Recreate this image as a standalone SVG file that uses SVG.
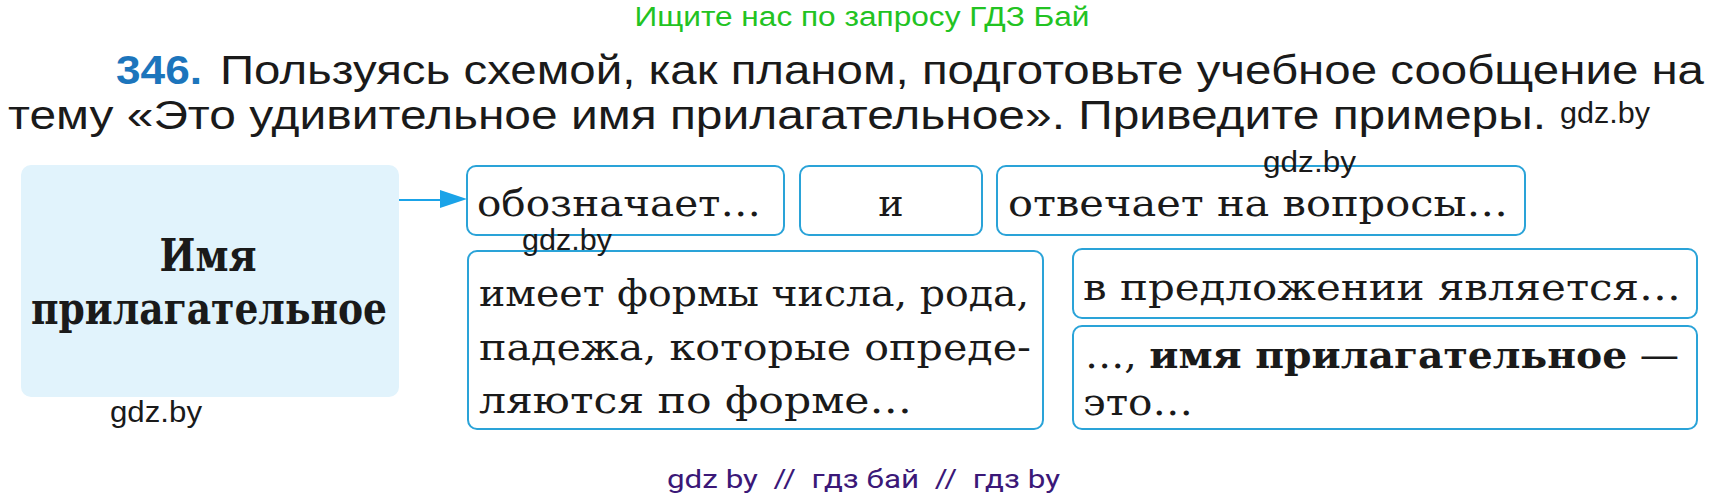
<svg xmlns="http://www.w3.org/2000/svg" width="1730" height="500" viewBox="0 0 1730 500">
<defs>
<style>
.hdr{font-family:"Liberation Sans",Arial,sans-serif;font-size:40px;fill:#1a1a1a}
.wm{font-family:"Liberation Sans",Arial,sans-serif;font-size:30px;fill:#1a1a1a}
.box{fill:#ffffff;stroke:#2aa3d8;stroke-width:2}
.t{font-family:"DejaVu Serif","Liberation Serif",serif;font-size:38px;fill:#1a1a1a}
.main{font-family:"DejaVu Serif","Liberation Serif",serif;font-size:44px;font-weight:bold;fill:#1a1a1a}
</style>
</defs>
<rect width="1730" height="500" fill="#ffffff"/>
<text x="862" y="26" text-anchor="middle" font-family="Liberation Sans,Arial,sans-serif" font-size="27" fill="#22c322" textLength="455" lengthAdjust="spacingAndGlyphs">Ищите нас по запросу ГДЗ Бай</text>
<text x="116" y="84" font-family="Liberation Sans,Arial,sans-serif" font-size="40" font-weight="bold" fill="#1c75bc" textLength="86" lengthAdjust="spacingAndGlyphs">346.</text>
<text class="hdr" x="220" y="84" textLength="1484" lengthAdjust="spacingAndGlyphs">Пользуясь схемой, как планом, подготовьте учебное сообщение на</text>
<text class="hdr" x="8" y="129" textLength="1538" lengthAdjust="spacingAndGlyphs">тему «Это удивительное имя прилагательное». Приведите примеры.</text>
<g id="connectors">
<line x1="399" y1="200" x2="445" y2="200" stroke="#1aa3e8" stroke-width="2"/>
<polygon points="440,190 467,199 440,208" fill="#1aa3e8"/>
</g>
<g id="main">
<rect x="21" y="165" width="378" height="232" rx="10" fill="#e1f3fc"/>
<text class="main" x="208" y="271" text-anchor="middle" textLength="97" lengthAdjust="spacingAndGlyphs">Имя</text>
<text class="main" x="31" y="324" textLength="356" lengthAdjust="spacingAndGlyphs">прилагательное</text>
</g>
<g id="n1">
<rect class="box" x="467" y="166" width="317" height="69" rx="9"/>
<text class="t" x="477" y="216" textLength="284" lengthAdjust="spacingAndGlyphs">обозначает…</text>
</g>
<g id="n2">
<rect class="box" x="800" y="166" width="182" height="69" rx="9"/>
<text class="t" x="891" y="216" text-anchor="middle">и</text>
</g>
<g id="n3">
<rect class="box" x="997" y="166" width="528" height="69" rx="9"/>
<text class="t" x="1008" y="216" textLength="500" lengthAdjust="spacingAndGlyphs">отвечает на вопросы…</text>
</g>
<g id="n4">
<rect class="box" x="468" y="251" width="575" height="178" rx="9"/>
<text class="t" x="479" y="306" textLength="550" lengthAdjust="spacingAndGlyphs">имеет формы числа, рода,</text>
<text class="t" x="479" y="360" textLength="552" lengthAdjust="spacingAndGlyphs">падежа, которые опреде-</text>
<text class="t" x="479" y="413" textLength="433" lengthAdjust="spacingAndGlyphs">ляются по форме…</text>
</g>
<g id="n5">
<rect class="box" x="1073" y="249" width="624" height="69" rx="9"/>
<text class="t" x="1083" y="300" textLength="598" lengthAdjust="spacingAndGlyphs">в предложении является…</text>
</g>
<g id="n6">
<rect class="box" x="1073" y="326" width="624" height="103" rx="9"/>
<text class="t" x="1085" y="368" textLength="594" lengthAdjust="spacingAndGlyphs">…, <tspan font-weight="bold">имя прилагательное</tspan> —</text>
<text class="t" x="1083" y="415" textLength="110" lengthAdjust="spacingAndGlyphs">это…</text>
</g>
<g id="watermarks">
<text class="wm" x="1560" y="123" textLength="90" lengthAdjust="spacingAndGlyphs">gdz.by</text>
<text class="wm" x="1263" y="172" textLength="93" lengthAdjust="spacingAndGlyphs">gdz.by</text>
<text class="wm" x="522" y="250" textLength="90" lengthAdjust="spacingAndGlyphs">gdz.by</text>
<text class="wm" x="110" y="422" textLength="92" lengthAdjust="spacingAndGlyphs">gdz.by</text>
<text x="667" y="488" font-family="Roboto,Liberation Sans,sans-serif" font-size="25" fill="#3b1878" textLength="393" lengthAdjust="spacingAndGlyphs" xml:space="preserve">gdz by  //  гдз бай  //  гдз by</text>
</g>
</svg>
